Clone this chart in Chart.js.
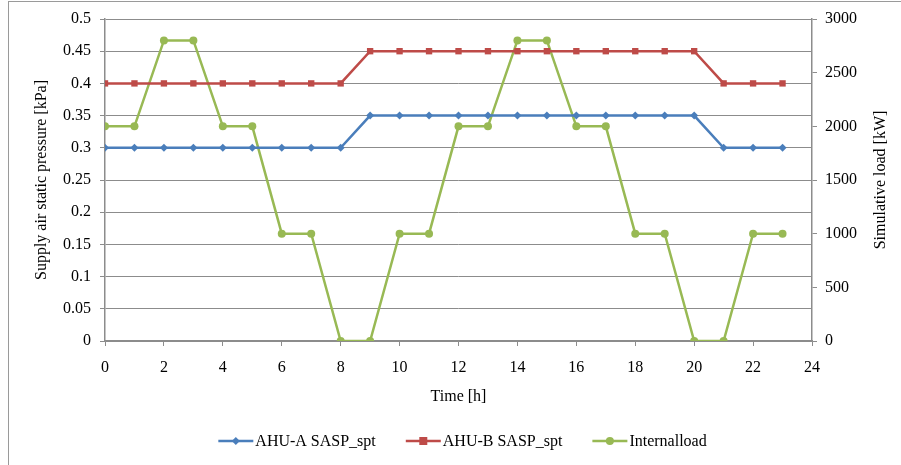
<!DOCTYPE html>
<html>
<head>
<meta charset="utf-8">
<script src="https://cdn.jsdelivr.net/npm/chart.js@4"></script>
<style>
  html, body { margin: 0; padding: 0; background: #fff; }
  #wrap { width: 901px; height: 465px; position: relative; }
</style>
</head>
<body>
<div id="wrap"><canvas id="chart" width="901" height="465"></canvas></div>
<script>
// hours 0..23
const hours = [0,1,2,3,4,5,6,7,8,9,10,11,12,13,14,15,16,17,18,19,20,21,22,23];
const ahuA = [0.3,0.3,0.3,0.3,0.3,0.3,0.3,0.3,0.3,0.35,0.35,0.35,0.35,0.35,0.35,0.35,0.35,0.35,0.35,0.35,0.35,0.3,0.3,0.3];
const ahuB = [0.4,0.4,0.4,0.4,0.4,0.4,0.4,0.4,0.4,0.45,0.45,0.45,0.45,0.45,0.45,0.45,0.45,0.45,0.45,0.45,0.45,0.4,0.4,0.4];
const internalLoad = [2000,2000,2800,2800,2000,2000,1000,1000,0,0,1000,1000,2000,2000,2800,2800,2000,2000,1000,1000,0,0,1000,1000];
const seriesNames = ['AHU-A SASP_spt', 'AHU-B SASP_spt', 'Internalload'];
const rightTitle = 'Simulative load [kW]';

const FONT = 'Liberation Serif, Times New Roman, serif';
const FS = 16;
const GRID = '#8c8c8c';

const toXY = (ys) => hours.map((h, i) => ({ x: h, y: ys[i] }));

// frame around the whole chart, right title (bottom-to-top), legend with line through marker
const framePlugin = {
  id: 'frame',
  beforeDraw(chart) {
    const ctx = chart.ctx;
    ctx.save();
    ctx.strokeStyle = '#9a9a9a';
    ctx.lineWidth = 1;
    ctx.strokeRect(8.5, 1.5, 1000, 1000);
    ctx.restore();
  },
  afterDraw(chart) {
    const ctx = chart.ctx;
    const area = chart.chartArea;
    ctx.save();
    ctx.font = FS + 'px ' + FONT;
    ctx.fillStyle = '#000';
    ctx.textAlign = 'center';
    ctx.textBaseline = 'middle';
    ctx.translate(881, (area.top + area.bottom) / 2);
    ctx.rotate(-Math.PI / 2);
    ctx.fillText(rightTitle, 0, 0);
    ctx.restore();

    ctx.save();
    ctx.font = FS + 'px ' + FONT;
    ctx.textBaseline = 'middle';
    const y = 441;
    const lineLen = 35, gap = 2, spacing = 30;
    const items = chart.data.datasets.map(ds => ({
      ds, w: lineLen + gap + ctx.measureText(ds.label).width
    }));
    const total = items.reduce((s, it) => s + it.w, 0) + spacing * (items.length - 1);
    let x = (area.left + area.right) / 2 - total / 2 + 4;
    items.forEach(it => {
      const ds = it.ds;
      ctx.strokeStyle = ds.borderColor;
      ctx.lineWidth = 2.5;
      ctx.beginPath();
      ctx.moveTo(x, y);
      ctx.lineTo(x + lineLen, y);
      ctx.stroke();
      ctx.fillStyle = ds.borderColor;
      const cx = x + lineLen / 2;
      ctx.beginPath();
      if (ds.pointStyle === 'rectRot') {
        ctx.moveTo(cx, y - 4); ctx.lineTo(cx + 4, y); ctx.lineTo(cx, y + 4); ctx.lineTo(cx - 4, y);
      } else if (ds.pointStyle === 'rect') {
        ctx.rect(cx - 4, y - 4, 8, 8);
      } else {
        ctx.arc(cx, y, 4, 0, Math.PI * 2);
      }
      ctx.fill();
      ctx.fillStyle = '#000';
      ctx.fillText(ds.label, x + lineLen + gap, y + 1);
      x += it.w + spacing;
    });
    ctx.restore();
  }
};

new Chart(document.getElementById('chart').getContext('2d'), {
  type: 'line',
  data: {
    datasets: [
      {
        label: seriesNames[0], data: toXY(ahuA), yAxisID: 'y',
        borderColor: '#4a7ebb', backgroundColor: '#4a7ebb', borderWidth: 2.5,
        pointStyle: 'rectRot', pointRadius: 4, pointBorderWidth: 0
      },
      {
        label: seriesNames[1], data: toXY(ahuB), yAxisID: 'y',
        borderColor: '#be4b48', backgroundColor: '#be4b48', borderWidth: 2.5,
        pointStyle: 'rect', pointRadius: 4.5, pointBorderWidth: 0
      },
      {
        label: seriesNames[2], data: toXY(internalLoad), yAxisID: 'y2',
        borderColor: '#98b954', backgroundColor: '#98b954', borderWidth: 2.5,
        pointStyle: 'circle', pointRadius: 4, pointBorderWidth: 0
      }
    ]
  },
  options: {
    responsive: false,
    animation: false,
    layout: { padding: { left: 32, right: 6, top: 19, bottom: 55 } },
    plugins: { legend: { display: false }, tooltip: { enabled: false } },
    scales: {
      x: {
        type: 'linear', min: 0, max: 24,
        ticks: { stepSize: 2, color: '#000', font: { family: FONT, size: FS }, padding: 12 },
        grid: { drawOnChartArea: false, color: GRID, tickLength: 5 },
        border: { color: GRID, width: 1.5 },
        title: { display: true, text: 'Time [h]', color: '#000', font: { family: FONT, size: FS }, padding: { top: 6 } },
        afterFit: (s) => { s.height = 69; }
      },
      y: {
        position: 'left', min: 0, max: 0.5,
        ticks: { stepSize: 0.05, color: '#000', font: { family: FONT, size: FS }, padding: 9,
          callback: (v) => String(Math.round(v * 100) / 100) },
        grid: { color: GRID, tickLength: 5 },
        border: { color: GRID, width: 1.5 },
        title: { display: true, text: 'Supply air static pressure [kPa]', color: '#000', font: { family: FONT, size: FS }, padding: 0 },
        afterFit: (s) => { s.width = 73; }
      },
      y2: {
        position: 'right', min: 0, max: 3000,
        ticks: { stepSize: 500, color: '#000', font: { family: FONT, size: FS }, padding: 8,
          callback: (v) => String(v) },
        grid: { drawOnChartArea: false, color: GRID, tickLength: 5 },
        border: { color: GRID, width: 1.5 },
        afterFit: (s) => { s.width = 83; }
      }
    }
  },
  plugins: [framePlugin]
});
</script>
</body>
</html>
